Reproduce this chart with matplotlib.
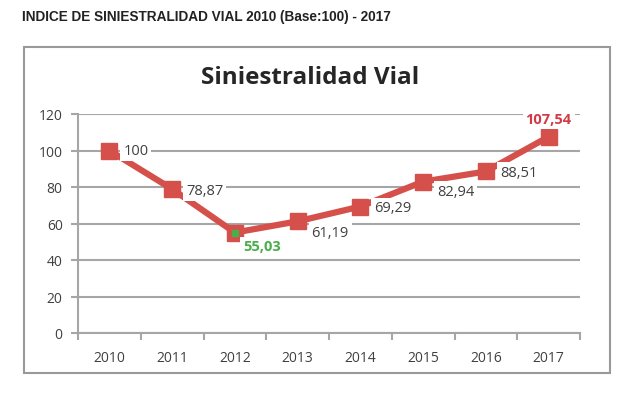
import matplotlib
matplotlib.use("Agg")
import matplotlib.pyplot as plt
from matplotlib.patches import Rectangle

years = ["2010", "2011", "2012", "2013", "2014", "2015", "2016", "2017"]
values = [100, 78.87, 55.03, 61.19, 69.29, 82.94, 88.51, 107.54]
labels = ["100", "78,87", "55,03", "61,19", "69,29", "82,94", "88,51", "107,54"]
yticks = [0, 20, 40, 60, 80, 100, 120]

RED = "#d5504b"
GREEN = "#4aae4a"
GRID = "#a6a6a6"
TXT = "#404040"
FONT = ["Open Sans", "DejaVu Sans"]

fig = plt.figure(figsize=(6.4, 4.02), dpi=100)
fig.patch.set_facecolor("white")

fig.text(22 / 640, 1 - 17 / 402, "INDICE DE SINIESTRALIDAD VIAL 2010 (Base:100) - 2017",
         fontsize=9.8, fontweight="bold", family=["Liberation Sans Narrow", "Liberation Sans"],
         color="#222222", ha="left", va="center")

fig.patches.append(Rectangle((24 / 640, 1 - 374 / 402), (610 - 24) / 640, (374 - 48) / 402,
                             transform=fig.transFigure, fill=False, edgecolor="#999999",
                             linewidth=1.5))

fig.text(310 / 640, 1 - 78 / 402, "Siniestralidad Vial", fontsize=17.5, fontweight="bold",
         family=FONT, color="#262626", ha="center", va="center")

ax = fig.add_axes([78 / 640, 1 - 334 / 402, (580 - 78) / 640, (334 - 115) / 402])
x = list(range(len(years)))
ax.plot(x, values, color=RED, linewidth=4.5, zorder=3, solid_capstyle="butt")
ax.plot(x, values, linestyle="none", marker="s", markersize=11, color=RED, zorder=4)
ax.plot([x[2]], [values[2]], linestyle="none", marker="s", markersize=5, color=GREEN, zorder=5)

ax.set_xlim(-0.5, len(years) - 0.5)
ax.set_ylim(0, 120)
ax.set_yticks(yticks)
ax.set_yticklabels([str(v) for v in yticks], family=FONT, fontsize=10, color=TXT)
ax.set_xticks(x)
ax.set_xticklabels(years, family=FONT, fontsize=10, color=TXT)
ax.set_xticks([i - 0.5 for i in range(len(years) + 1)], minor=True)
ax.tick_params(axis="x", which="major", length=0, pad=12)
ax.tick_params(axis="x", which="minor", length=5, width=1.5, color=GRID, direction="out")
ax.tick_params(axis="y", length=5, width=1.5, color=GRID, pad=6)
ax.grid(axis="y", color=GRID, linewidth=1.5, zorder=0)
ax.set_axisbelow(True)
for s in ["top", "right"]:
    ax.spines[s].set_visible(False)
for s in ["left", "bottom"]:
    ax.spines[s].set_color(GRID)
    ax.spines[s].set_linewidth(1.5)

offsets = [(10, 0), (10, -1), (6, -10), (10, -8), (10, -1), (10, -7), (10, -1), (0, 13)]
has = ["left", "left", "left", "left", "left", "left", "left", "center"]
colors = [TXT, TXT, GREEN, TXT, TXT, TXT, TXT, "#d23a45"]
weights = ["normal"] * 8
weights[2] = "bold"
weights[7] = "bold"
for i in range(len(years)):
    ax.annotate(labels[i], (x[i], values[i]), xytext=offsets[i], textcoords="offset points",
                ha=has[i], va="center", fontsize=10.5, family=FONT, color=colors[i],
                fontweight=weights[i], zorder=6,
                bbox=dict(boxstyle="square,pad=0.2", facecolor="white", edgecolor="none"))

fig.savefig("out.png", dpi=100, facecolor="white")
